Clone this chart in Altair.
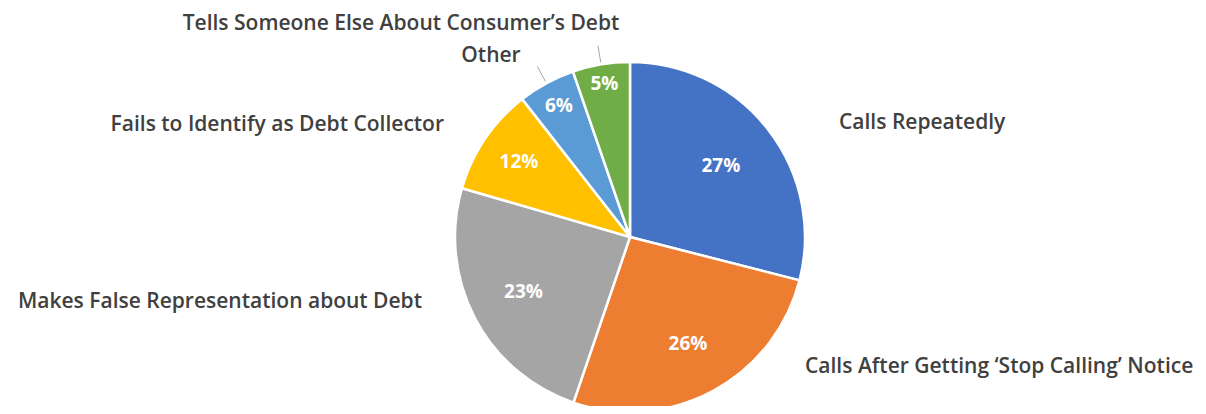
import math
import altair as alt
import pandas as pd

# ---------------- data ----------------
categories = [
    "Calls Repeatedly",
    "Calls After Getting \u2018Stop Calling\u2019 Notice",
    "Makes False Representation about Debt",
    "Fails to Identify as Debt Collector",
    "Other",
    "Tells Someone Else About Consumer\u2019s Debt",
]
slice_shares = [28.99, 26.25, 24.26, 9.94, 5.28, 5.28]   # slice sizes as drawn
pct_labels = ["27%", "26%", "23%", "12%", "6%", "5%"]    # printed data labels

# ---------------- styles / layout ----------------
colors = ["#4472C4", "#ED7D31", "#A5A5A5", "#FFC000", "#5B9BD5", "#70AD47"]
W, H = 1190, 398
CX, CY = 622, 229          # pie centre inside the view
R = 175
inner_label_r = [115, 122, 120, 134, 149, 155]
# outside label anchor (view px) and alignment
outer_anchor = [
    (831, 121, "left"),
    (797, 365, "left"),
    (414, 300, "right"),
    (436, 123, "right"),
    (483, 54, "center"),
    (393, 22, "center"),
]
leader_for = [False, False, False, False, True, True]
FONT = "Open Sans"
TEXT_COLOR = "#404040"

# slice mid-angles from the data
total = sum(slice_shares)
mids = []
cum = 0.0
for s in slice_shares:
    mids.append((cum + s / 2) / total * 2 * math.pi)
    cum += s

df = pd.DataFrame({
    "idx": list(range(len(categories))),
    "cat": categories,
    "share": slice_shares,
    "pct": pct_labels,
    "ix": [CX + r * math.sin(a) for r, a in zip(inner_label_r, mids)],
    "iy": [CY - r * math.cos(a) for r, a in zip(inner_label_r, mids)],
    "ox": [a[0] for a in outer_anchor],
    "oy": [a[1] for a in outer_anchor],
    "al": [a[2] for a in outer_anchor],
})

rows = []
for a, lead in zip(mids, leader_for):
    if lead:
        r1, r2 = R + 2, R + 19
        rows.append({
            "lx1": CX + r1 * math.sin(a), "ly1": CY - r1 * math.cos(a),
            "lx2": CX + r2 * math.sin(a), "ly2": CY - r2 * math.cos(a),
        })
leaders = pd.DataFrame(rows)

base = alt.Chart(df)

pie = base.mark_arc(outerRadius=R, stroke="white", strokeWidth=2.5).encode(
    theta=alt.Theta("share:Q", stack=True),
    order=alt.Order("idx:Q"),
    color=alt.Color("cat:N", scale=alt.Scale(domain=categories, range=colors), legend=None),
    x=alt.value(CX),
    y=alt.value(CY),
)

inner = base.mark_text(font=FONT, fontSize=19, fontWeight="bold", color="white",
                       align="center", baseline="middle").encode(
    x=alt.X("ix:Q", scale=None, axis=None),
    y=alt.Y("iy:Q", scale=None, axis=None),
    text="pct:N",
)

def outer_layer(al):
    return base.transform_filter(alt.datum.al == al).mark_text(
        font=FONT, fontSize=21, fontWeight=600, color=TEXT_COLOR,
        align=al, baseline="alphabetic").encode(
        x=alt.X("ox:Q", scale=None, axis=None),
        y=alt.Y("oy:Q", scale=None, axis=None),
        text="cat:N",
    )

lines = alt.Chart(leaders).mark_rule(color="#A6A6A6", strokeWidth=1).encode(
    x=alt.X("lx1:Q", scale=None, axis=None),
    y=alt.Y("ly1:Q", scale=None, axis=None),
    x2="lx2:Q",
    y2="ly2:Q",
)

chart = alt.layer(pie, lines, inner, outer_layer("left"), outer_layer("right"), outer_layer("center")).properties(
    width=W, height=H, padding=0,
    autosize=alt.AutoSizeParams(type="none"),
    background="white",
).configure_view(stroke=None)

chart.save("out.html", embed_options={"renderer": "svg", "actions": False})
